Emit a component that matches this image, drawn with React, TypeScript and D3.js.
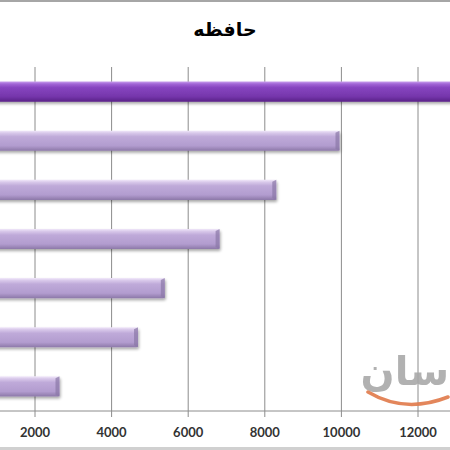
import React, { useEffect, useRef } from 'react';
import * as d3 from 'd3';

const title = 'حافظه';
const categories = ['A', 'B', 'C', 'D', 'E', 'F', 'G'];
const values = [14600, 9950, 8300, 6820, 5390, 4690, 2640];
const ticks = [0, 2000, 4000, 6000, 8000, 10000, 12000];

const App: React.FC = () => {
  const svgRef = useRef<SVGSVGElement>(null);

  useEffect(() => {
    if (!svgRef.current) return;
    const svg = d3.select(svgRef.current);
    svg.selectAll('*').remove();

    const width = 450;
    const height = 450;
    const top = 67;
    const bottom = 411;

    const x = d3.scaleLinear().domain([0, 2000]).range([-41.6, 35]);
    const y = d3.scaleBand<string>().domain(categories).range([top, bottom]).paddingInner(0.59).paddingOuter(0.295);

    const defs = svg.append('defs');
    const mkGrad = (id: string, stops: [number, string][]) => {
      const g = defs.append('linearGradient').attr('id', id)
        .attr('x1', 0).attr('y1', 0).attr('x2', 0).attr('y2', 1);
      stops.forEach(([o, c]) => g.append('stop').attr('offset', o).attr('stop-color', c));
    };
    mkGrad('gDark', [[0, '#c9a0ee'], [0.12, '#a266d6'], [0.3, '#8745c0'], [0.75, '#7536ab'], [1, '#5a2388']]);
    mkGrad('gLight', [[0, '#f1e8fa'], [0.12, '#d8c8ea'], [0.3, '#bfaad9'], [0.75, '#b29ccf'], [1, '#8c78a8']]);

    const filter = defs.append('filter').attr('id', 'shadow').attr('x', '-10%').attr('y', '-30%').attr('width', '120%').attr('height', '180%');
    filter.append('feGaussianBlur').attr('in', 'SourceAlpha').attr('stdDeviation', 1.5);
    filter.append('feOffset').attr('dx', 1).attr('dy', 2).attr('result', 'ob');
    filter.append('feComponentTransfer').append('feFuncA').attr('type', 'linear').attr('slope', 0.35);
    const merge = filter.append('feMerge');
    merge.append('feMergeNode');
    merge.append('feMergeNode').attr('in', 'SourceGraphic');

    svg.append('rect').attr('width', width).attr('height', height).attr('fill', '#ffffff');

    // frame lines
    svg.append('rect').attr('x', 0).attr('y', 0).attr('width', width).attr('height', 2).attr('fill', '#a6a6a6');
    svg.append('rect').attr('x', 0).attr('y', 447).attr('width', width).attr('height', 3).attr('fill', '#d0d0d0');

    // gridlines
    svg.append('g').selectAll('line')
      .data(ticks.filter(t => t > 0))
      .enter().append('line')
      .attr('x1', d => x(d)).attr('x2', d => x(d))
      .attr('y1', top).attr('y2', bottom + 6)
      .attr('stroke', '#8c8c8c').attr('stroke-width', 1);

    // watermark
    const wm = svg.append('g').attr('opacity', 0.9);
    wm.append('text')
      .attr('x', 449).attr('y', 385)
      .attr('text-anchor', 'end')
      .attr('font-family', 'DejaVu Sans')
      .attr('font-weight', 'bold')
      .attr('font-size', 40)
      .attr('fill', '#a9a9a9')
      .text('سان');
    wm.append('path')
      .attr('d', 'M368,392 Q405,414 448,397')
      .attr('fill', 'none').attr('stroke', '#e07a4a').attr('stroke-width', 3.5)
      .attr('stroke-linecap', 'round');

    // x axis line
    svg.append('line')
      .attr('x1', 0).attr('x2', width)
      .attr('y1', bottom).attr('y2', bottom)
      .attr('stroke', '#8c8c8c').attr('stroke-width', 1);

    // bars
    const bars = svg.append('g');
    bars.selectAll('rect')
      .data(values)
      .enter().append('rect')
      .attr('x', x(0))
      .attr('y', (_, i) => y(categories[i])!)
      .attr('width', d => x(d) - x(0))
      .attr('height', y.bandwidth())
      .attr('rx', 1.5)
      .attr('fill', (_, i) => i === 0 ? 'url(#gDark)' : 'url(#gLight)')
      .attr('filter', 'url(#shadow)');

    // bevel at bar end
    bars.selectAll('path.cap')
      .data(values)
      .enter().append('path')
      .attr('class', 'cap')
      .attr('d', (d, i) => {
        const x1 = x(d);
        const y0 = y(categories[i])!;
        const h = y.bandwidth();
        return `M${x1 - 4},${y0 + 2} L${x1},${y0} L${x1},${y0 + h} L${x1 - 4},${y0 + h - 2} Z`;
      })
      .attr('fill', (_, i) => i === 0 ? '#5e2a8c' : '#8a77a6')
      .attr('opacity', 0.7);

    // tick labels
    svg.append('g').selectAll('text')
      .data(ticks.filter(t => t > 0))
      .enter().append('text')
      .attr('x', d => x(d))
      .attr('y', 437)
      .attr('text-anchor', 'middle')
      .attr('font-family', 'Lato, "Open Sans", sans-serif')
      .attr('font-weight', 'bold')
      .attr('font-size', 13)
      .attr('fill', '#333')
      .text(d => String(d));

    // title
    svg.append('text')
      .attr('x', 225).attr('y', 36)
      .attr('text-anchor', 'middle')
      .attr('font-family', '"DejaVu Sans", sans-serif')
      .attr('font-weight', 'bold')
      .attr('font-size', 19)
      .attr('fill', '#000')
      .text(title);
  }, []);

  return (
    <svg
      ref={svgRef}
      width={450}
      height={450}
      style={{ position: 'absolute', left: 0, top: 0, display: 'block' }}
    />
  );
};

export default App;
